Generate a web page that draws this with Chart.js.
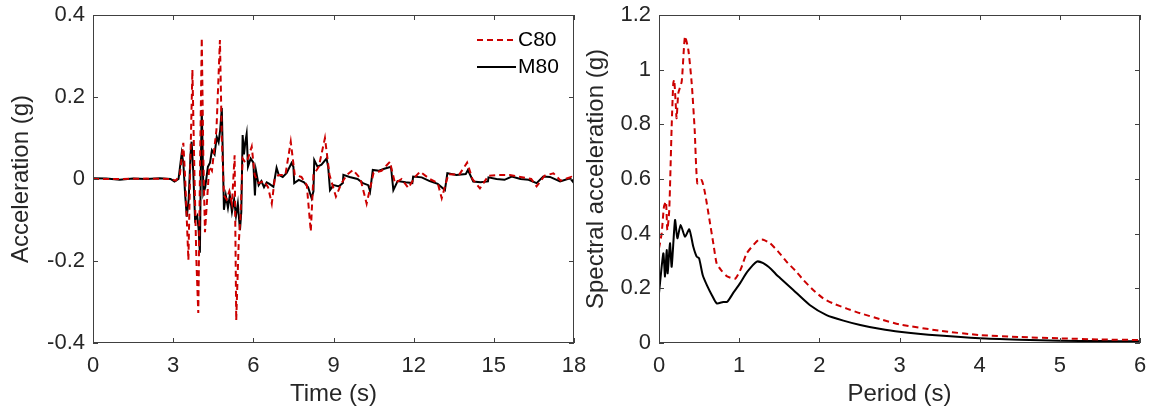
<!DOCTYPE html>
<html lang="en">
<head>
  <meta charset="UTF-8">
  <title>Acceleration time history and response spectrum</title>
  <script src="https://cdn.jsdelivr.net/npm/chart.js"></script>
  <style>
    body { margin: 0; background: #fff; width: 1153px; height: 411px; position: relative; overflow: hidden; }
    canvas { position: absolute; top: 0; }
  </style>
</head>
<body>
  <canvas id="left" width="590" height="411" style="left:0"></canvas>
  <canvas id="right" width="578" height="411" style="left:575px"></canvas>

  <script>
    // left panel: acceleration time histories (s, g)
    const timeC80 = [0, 1, 2, 2.9, 3.1, 3.25, 3.38, 3.45, 3.57, 3.63, 3.72, 3.8, 3.87, 3.94, 4.0, 4.07, 4.13, 4.19, 4.27, 4.35, 4.45, 4.55, 4.62, 4.75, 4.82, 4.9, 5.0, 5.1, 5.2, 5.3, 5.36, 5.45, 5.52, 5.6, 5.7, 5.8, 5.94, 6.05, 6.2, 6.4, 6.55, 6.69, 6.8, 6.95, 7.2, 7.4, 7.55, 7.8, 8.0, 8.15, 8.25, 8.45, 8.68, 8.85, 9.09, 9.3, 9.5, 9.73, 10.0, 10.24, 10.5, 10.8, 11.11, 11.3, 11.55, 11.8, 12.05, 12.24, 12.6, 12.9, 13.05, 13.3, 13.7, 14.0, 14.2, 14.48, 14.8, 15.2, 15.6, 16.0, 16.4, 16.6, 16.9, 17.23, 17.5, 17.9, 18.0];
    const accC80 = [0, 0, 0.001, 0, -0.004, 0.01, 0.088, 0.0, -0.198, 0.0, 0.266, 0.0, -0.2, -0.327, 0.0, 0.344, 0.05, -0.13, -0.05, 0.03, 0.02, 0.08, 0.12, 0.339, 0.1, -0.04, -0.05, -0.03, -0.06, 0.058, -0.345, -0.16, -0.09, 0.05, 0.04, 0.05, 0.079, 0.01, -0.01, -0.005, -0.02, -0.06, 0.0, 0.01, 0.01, 0.091, 0.01, 0.005, -0.015, -0.128, 0.01, 0.03, 0.1, 0.01, -0.043, -0.01, 0.01, 0.022, 0.002, -0.06, 0.015, 0.02, 0.042, -0.01, 0.0, -0.022, 0.005, 0.018, 0.0, -0.01, -0.047, 0.012, 0.01, 0.04, 0.0, -0.023, 0.008, 0.01, 0.01, 0.005, 0.0, -0.018, 0.008, 0.014, -0.004, 0.005, -0.005];

    const timeM80 = [0, 0.5, 1.0, 1.5, 2.0, 2.5, 2.9, 3.05, 3.2, 3.32, 3.38, 3.45, 3.51, 3.58, 3.65, 3.69, 3.75, 3.82, 3.9, 3.95, 4.0, 4.04, 4.07, 4.1, 4.13, 4.2, 4.3, 4.38, 4.45, 4.55, 4.63, 4.7, 4.76, 4.82, 4.86, 4.9, 4.97, 5.05, 5.12, 5.2, 5.28, 5.35, 5.42, 5.5, 5.55, 5.6, 5.65, 5.7, 5.75, 5.8, 5.9, 6.0, 6.06, 6.1, 6.2, 6.3, 6.4, 6.5, 6.6, 6.75, 6.87, 6.95, 7.1, 7.25, 7.43, 7.5, 7.53, 7.7, 7.9, 8.05, 8.18, 8.25, 8.28, 8.4, 8.55, 8.74, 8.8, 8.87, 9.0, 9.2, 9.35, 9.37, 9.6, 9.9, 10.1, 10.3, 10.37, 10.47, 10.7, 10.9, 11.15, 11.24, 11.4, 11.7, 11.95, 11.98, 12.3, 12.6, 12.9, 13.17, 13.26, 13.6, 13.95, 14.03, 14.23, 14.5, 14.78, 14.8, 15.1, 15.4, 15.67, 16.0, 16.3, 16.6, 16.85, 17.1, 17.48, 17.85, 18.0];
    const accM80 = [0.002, 0.001, -0.002, 0.001, 0.0, 0.002, 0.0, -0.006, 0.0, 0.063, 0.04, -0.04, -0.092, -0.05, 0.06, 0.091, 0.02, -0.1, -0.09, -0.12, -0.18, 0.05, 0.168, 0.08, -0.035, -0.02, 0.03, 0.04, 0.07, 0.06, 0.103, 0.09, 0.12, 0.173, 0.05, -0.075, -0.04, -0.07, -0.04, -0.08, -0.05, -0.09, -0.06, -0.125, -0.08, 0.107, 0.06, 0.09, 0.11, 0.03, 0.05, 0.04, -0.04, 0.02, -0.015, -0.005, -0.02, -0.008, -0.012, -0.019, 0.027, 0.01, 0.005, 0.015, 0.039, 0.03, -0.01, -0.002, -0.008, -0.02, -0.047, -0.03, 0.046, 0.03, 0.035, 0.05, 0.03, -0.027, -0.015, -0.018, -0.01, 0.01, 0.005, 0.0, -0.01, -0.015, -0.03, 0.022, 0.02, 0.025, 0.03, -0.027, -0.005, -0.008, -0.01, 0.006, 0.004, -0.005, -0.012, -0.027, 0.014, 0.01, 0.012, 0.022, -0.006, -0.008, -0.006, 0.004, 0.0, -0.002, 0.006, 0.0, -0.002, -0.01, 0.006, 0.005, -0.006, 0.002, -0.01];

    // right panel: response spectra (s, g)
    const periodC80 = [0, 0.033, 0.062, 0.087, 0.104, 0.128, 0.158, 0.178, 0.19, 0.208, 0.22, 0.241, 0.283, 0.324, 0.366, 0.408, 0.445, 0.478, 0.532, 0.574, 0.63, 0.68, 0.72, 0.78, 0.844, 0.948, 1.02, 1.094, 1.239, 1.3, 1.385, 1.5, 1.59, 1.7, 1.8, 1.92, 2.05, 2.17, 2.35, 2.51, 2.75, 3.0, 3.5, 4.0, 4.5, 5.0, 5.5, 6.0];
    const saC80 = [0.346, 0.401, 0.499, 0.517, 0.413, 0.487, 0.792, 0.95, 0.963, 0.877, 0.822, 0.914, 0.956, 1.121, 1.072, 0.95, 0.78, 0.584, 0.596, 0.548, 0.45, 0.36, 0.29, 0.265, 0.245, 0.235, 0.27, 0.328, 0.377, 0.378, 0.365, 0.33, 0.298, 0.265, 0.231, 0.195, 0.163, 0.145, 0.125, 0.109, 0.088, 0.068, 0.045, 0.029, 0.022, 0.017, 0.013, 0.011];

    const periodM80 = [0, 0.054, 0.075, 0.096, 0.108, 0.137, 0.158, 0.2, 0.229, 0.27, 0.324, 0.378, 0.428, 0.47, 0.5, 0.545, 0.6, 0.66, 0.72, 0.8, 0.852, 0.93, 1.01, 1.1, 1.22, 1.3, 1.4, 1.468, 1.51, 1.675, 1.88, 2.09, 2.3, 2.51, 2.75, 3.0, 3.5, 4.0, 4.5, 5.0, 5.5, 6.0];
    const saM80 = [0.182, 0.328, 0.243, 0.34, 0.255, 0.365, 0.279, 0.45, 0.383, 0.432, 0.389, 0.416, 0.352, 0.316, 0.31, 0.249, 0.21, 0.175, 0.145, 0.15, 0.151, 0.185, 0.218, 0.26, 0.298, 0.292, 0.27, 0.249, 0.238, 0.194, 0.139, 0.102, 0.082, 0.066, 0.052, 0.041, 0.027, 0.017, 0.012, 0.0085, 0.007, 0.006];

    const FONT = 'Liberation Sans, Arial, Helvetica, sans-serif';
    const AXIS = '#404040';
    const TEXT = '#262626';
    const RED = '#cc0000';

    function pts(xs, ys) { return xs.map((x, i) => ({ x: x, y: ys[i] })); }
    // matlab style tick text: 1 instead of 1.0
    function tickText(v) { return String(parseFloat(v.toFixed(3))); }

    // MATLAB-like box with inward ticks, plus an inset legend
    const boxPlugin = {
      id: 'boxPlugin',
      afterDatasetsDraw(chart, args, opts) {
        const { ctx, chartArea: a, scales } = chart;
        const len = 5;
        ctx.save();
        ctx.strokeStyle = AXIS;
        ctx.lineWidth = 1;
        ctx.setLineDash([]);
        ctx.strokeRect(a.left + 0.5, a.top + 0.5, a.width - 1, a.height - 1);
        ctx.beginPath();
        scales.x.ticks.forEach(t => {
          const px = Math.round(scales.x.getPixelForValue(t.value)) + 0.5;
          ctx.moveTo(px, a.bottom); ctx.lineTo(px, a.bottom - len);
          ctx.moveTo(px, a.top); ctx.lineTo(px, a.top + len);
        });
        scales.y.ticks.forEach(t => {
          const py = Math.round(scales.y.getPixelForValue(t.value)) + 0.5;
          ctx.moveTo(a.left, py); ctx.lineTo(a.left + len, py);
          ctx.moveTo(a.right, py); ctx.lineTo(a.right - len, py);
        });
        ctx.stroke();

        if (opts.legend) {
          ctx.font = '21px ' + FONT;
          ctx.textAlign = 'left';
          ctx.textBaseline = 'middle';
          chart.data.datasets.forEach((ds, i) => {
            const y = a.top + 25 + i * 27;
            ctx.strokeStyle = ds.borderColor;
            ctx.lineWidth = ds.borderWidth;
            ctx.setLineDash(ds.borderDash || []);
            ctx.beginPath();
            ctx.moveTo(a.right - 97, y); ctx.lineTo(a.right - 58, y);
            ctx.stroke();
            ctx.fillStyle = '#000';
            ctx.fillText(ds.label, a.right - 56, y);
          });
        }
        ctx.restore();
      }
    };

    function makeChart(id, cfg) {
      return new Chart(document.getElementById(id), {
        type: 'line',
        data: {
          datasets: [
            { label: 'C80', data: pts(cfg.xC, cfg.yC), borderColor: RED, borderWidth: 2, borderDash: [6, 4], pointRadius: 0, tension: cfg.tension },
            { label: 'M80', data: pts(cfg.xM, cfg.yM), borderColor: '#000', borderWidth: 2, pointRadius: 0, tension: cfg.tension }
          ]
        },
        options: {
          responsive: false,
          animation: false,
          layout: { padding: { top: 15, right: cfg.padRight, left: 0, bottom: 0 } },
          plugins: { legend: { display: false }, tooltip: { enabled: false }, boxPlugin: { legend: cfg.legend } },
          scales: {
            x: {
              type: 'linear', min: cfg.xMin, max: cfg.xMax,
              grid: { display: false, drawTicks: false },
              border: { display: false },
              ticks: { stepSize: cfg.xStep, color: TEXT, padding: 10, maxRotation: 0, callback: tickText, font: { family: FONT, size: 22 } },
              title: { display: true, text: cfg.xTitle, color: TEXT, padding: { top: 0, bottom: 2 }, font: { family: FONT, size: 24 } },
              afterFit: s => { s.height = 68; s.paddingLeft = 0; s.paddingRight = 0; }
            },
            y: {
              min: cfg.yMin, max: cfg.yMax,
              grid: { display: false, drawTicks: false },
              border: { display: false },
              ticks: { stepSize: cfg.yStep, color: TEXT, padding: 8, callback: tickText, font: { family: FONT, size: 22 } },
              title: { display: true, text: cfg.yTitle, color: TEXT, padding: { top: 7, bottom: 0 }, font: { family: FONT, size: 24 } },
              afterFit: s => { s.width = cfg.yWidth; s.paddingTop = 0; s.paddingBottom = 0; }
            }
          }
        },
        plugins: [boxPlugin]
      });
    }

    makeChart('left', {
      xC: timeC80, yC: accC80, xM: timeM80, yM: accM80,
      xMin: 0, xMax: 18, xStep: 3, yMin: -0.4, yMax: 0.4, yStep: 0.2,
      xTitle: 'Time (s)', yTitle: 'Acceleration (g)',
      yWidth: 93, padRight: 16, legend: true, tension: 0
    });

    makeChart('right', {
      xC: periodC80, yC: saC80, xM: periodM80, yM: saM80,
      xMin: 0, xMax: 6, xStep: 1, yMin: 0, yMax: 1.2, yStep: 0.2,
      xTitle: 'Period (s)', yTitle: 'Spectral acceleration (g)',
      yWidth: 84, padRight: 13, legend: false, tension: 0.2
    });
  </script>
</body>
</html>
